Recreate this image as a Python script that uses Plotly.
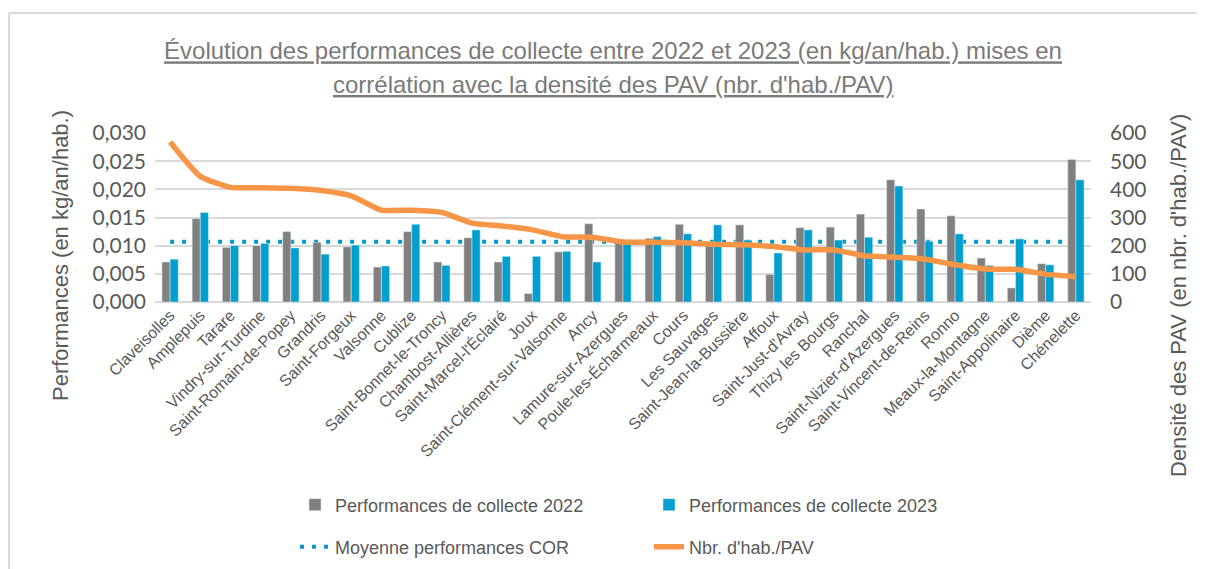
import plotly.graph_objects as go

communes = ["Claveisolles", "Amplepuis", "Tarare", "Vindry-sur-Turdine", "Saint-Romain-de-Popey",
            "Grandris", "Saint-Forgeux", "Valsonne", "Cublize", "Saint-Bonnet-le-Troncy",
            "Chambost-Allières", "Saint-Marcel-l'Éclairé", "Joux", "Saint-Clément-sur-Valsonne",
            "Ancy", "Lamure-sur-Azergues", "Poule-les-Écharmeaux", "Cours", "Les Sauvages",
            "Saint-Jean-la-Bussière", "Affoux", "Saint-Just-d'Avray", "Thizy les Bourgs", "Ranchal",
            "Saint-Nizier-d'Azergues", "Saint-Vincent-de-Reins", "Ronno", "Meaux-la-Montagne",
            "Saint-Appolinaire", "Dième", "Chénelette"]

perf_2022 = [0.0071, 0.0148, 0.0097, 0.0100, 0.0125, 0.0106, 0.0098, 0.0062, 0.0125, 0.0071,
             0.0114, 0.0071, 0.0015, 0.0089, 0.0139, 0.0110, 0.0113, 0.0138, 0.0106, 0.0137,
             0.0049, 0.0132, 0.0133, 0.0156, 0.0217, 0.0165, 0.0153, 0.0078, 0.0025, 0.0068, 0.0253]

perf_2023 = [0.0076, 0.0159, 0.0100, 0.0104, 0.0096, 0.0085, 0.0101, 0.0064, 0.0138, 0.0065,
             0.0128, 0.0081, 0.0081, 0.0090, 0.0071, 0.0110, 0.0116, 0.0121, 0.0137, 0.0110,
             0.0087, 0.0128, 0.0110, 0.0115, 0.0206, 0.0108, 0.0121, 0.0065, 0.0112, 0.0066, 0.0217]

moyenne_cor = 0.0107

densite = [568, 446, 407, 406, 404, 396, 377, 326, 326, 318, 280, 270, 256, 232, 230, 213, 212,
           210, 205, 203, 197, 185, 185, 164, 159, 152, 132, 117, 116, 99, 90]

title_line1 = "Évolution des performances de collecte entre 2022 et 2023 (en kg/an/hab.) mises en"
title_line2 = "corrélation avec la densité des PAV (nbr. d'hab./PAV)"
y_title_left = "Performances (en kg/an/hab.)"
y_title_right = "Densité des PAV (en nbr. d'hab./PAV)"

GRAY = "#808080"
BLUE = "#009FCF"
ORANGE = "#F79646"
TXT = "#595959"
FONT = "Liberation Sans, Arial, sans-serif"
TICKFONT = "Lato, Carlito, sans-serif"

fig = go.Figure()

# dotted average (drawn on the bottom layer, behind the bars)
fig.add_trace(go.Scatter(x=communes, y=[moyenne_cor] * len(communes), mode="lines",
                         name="Moyenne performances COR",
                         line=dict(color="#0099CC", width=4, dash="4px,8px"),
                         legend="legend2", yaxis="y"))
fig.add_trace(go.Bar(x=communes, y=perf_2022, name="Performances de collecte 2022",
                     marker=dict(color=GRAY), yaxis="y2", legend="legend"))
fig.add_trace(go.Bar(x=communes, y=perf_2023, name="Performances de collecte 2023",
                     marker=dict(color=BLUE), yaxis="y2", legend="legend"))
fig.add_trace(go.Scatter(x=communes, y=densite, mode="lines", name="Nbr. d'hab./PAV",
                         line=dict(color=ORANGE, width=5.5, shape="spline", smoothing=0.5),
                         yaxis="y3", legend="legend2"))

# page offset of the figure (default body margin)
OFF = 8
W, H = 1205, 569
PLOT_L, PLOT_R, PLOT_T, PLOT_B = 155, 1091, 133, 302   # target page pixels
L = PLOT_L - OFF
T = PLOT_T - OFF
R = W - (PLOT_R - OFF)
B = H - (PLOT_B - OFF)
pw = W - L - R
ph = H - T - B


def px_x(p):
    return (p - OFF - L) / pw


def px_y(p):
    return (H - B - (p - OFF)) / ph


def underline(s):
    return "<span style='text-decoration:underline'>" + s + "</span>"


fig.update_layout(
    width=W, height=H,
    margin=dict(l=L, r=R, t=T, b=B, autoexpand=False),
    paper_bgcolor="white", plot_bgcolor="white",
    separators=", ",
    barmode="group", bargap=0.46, bargroupgap=0.0,
    font=dict(family=FONT, color=TXT),
    title=dict(text=underline(title_line1),
               x=px_x(613), xref="paper", xanchor="center",
               y=1 - 43 / H, yref="container", yanchor="middle",
               font=dict(size=24, color="#7a7a7a", family=FONT)),
    annotations=[
        dict(text=underline(title_line2), x=px_x(613), y=px_y(84), xref="paper", yref="paper",
             xanchor="center", yanchor="middle", showarrow=False,
             font=dict(size=24, color="#7a7a7a", family=FONT)),
        dict(text=y_title_left, x=px_x(60), y=px_y(256), xref="paper", yref="paper",
             xanchor="center", yanchor="middle", showarrow=False, textangle=-90,
             font=dict(size=22, color=TXT, family=FONT)),
        dict(text=y_title_right, x=px_x(1178), y=px_y(296), xref="paper", yref="paper",
             xanchor="center", yanchor="middle", showarrow=False, textangle=-90,
             font=dict(size=22, color=TXT, family=FONT)),
    ],
    xaxis=dict(type="category", tickangle=-45, showgrid=False, showline=False, ticks="",
               automargin=False, tickfont=dict(size=16, color=TXT, family=FONT)),
    yaxis=dict(range=[0, 0.030], dtick=0.005, tickformat=".3f", showgrid=True,
               gridcolor="#d9d9d9", gridwidth=1.5, zeroline=True, zerolinecolor="#d9d9d9",
               zerolinewidth=1.5, showline=False, ticks="", automargin=False,
               ticklabelstandoff=8,
               tickfont=dict(size=21, color=TXT, family=TICKFONT)),
    yaxis2=dict(range=[0, 0.030], overlaying="y", visible=False, showgrid=False,
                automargin=False),
    yaxis3=dict(range=[0, 600], dtick=100, overlaying="y", side="right", showgrid=False,
                zeroline=False, showline=False, ticks="", ticklabelstandoff=18,
                automargin=False,
                tickfont=dict(size=21, color=TXT, family=TICKFONT)),
    legend=dict(orientation="h", x=px_x(295), xanchor="left", y=px_y(505), yanchor="middle",
                entrywidth=309, entrywidthmode="pixels", traceorder="normal",
                font=dict(size=18, color=TXT, family=FONT), bgcolor="rgba(0,0,0,0)"),
    legend2=dict(orientation="h", x=px_x(295), xanchor="left", y=px_y(547), yanchor="middle",
                 entrywidth=309, entrywidthmode="pixels", traceorder="normal",
                 font=dict(size=18, color=TXT, family=FONT), bgcolor="rgba(0,0,0,0)"),
    shapes=[
        dict(type="line", xref="paper", yref="paper",
             x0=px_x(9), x1=px_x(1230), y0=px_y(13), y1=px_y(13),
             line=dict(color="#d9d9d9", width=2), layer="below"),
        dict(type="line", xref="paper", yref="paper",
             x0=px_x(9), x1=px_x(9), y0=px_y(13), y1=px_y(600),
             line=dict(color="#d9d9d9", width=2), layer="below"),
    ],
    showlegend=True,
)

fig.write_html("out.html")
